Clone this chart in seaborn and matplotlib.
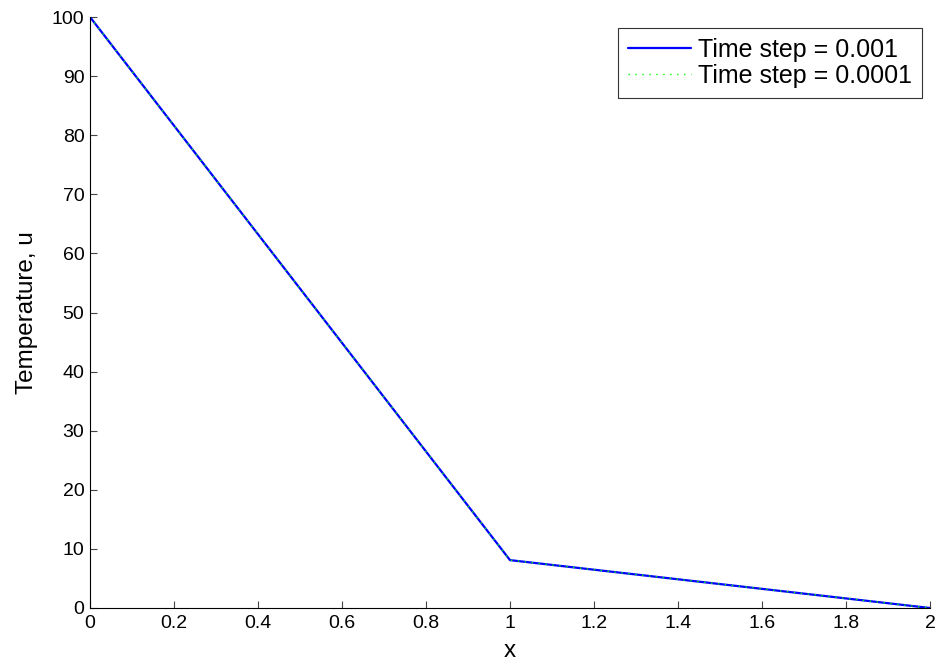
import matplotlib
matplotlib.use("Agg")
import matplotlib.pyplot as plt
import seaborn as sns
import pandas as pd

# Steady temperature profile along the rod for two time steps
x_nodes = [0.0, 1.0, 2.0]
u_dt_001 = [100.0, 8.1, 0.0]
u_dt_0001 = [100.0, 8.1, 0.0]
series_labels = ["Time step = 0.001", "Time step = 0.0001"]
x_ticks = [0, 0.2, 0.4, 0.6, 0.8, 1, 1.2, 1.4, 1.6, 1.8, 2]
x_tick_labels = ["0", "0.2", "0.4", "0.6", "0.8", "1", "1.2", "1.4", "1.6", "1.8", "2"]
y_ticks = [0, 10, 20, 30, 40, 50, 60, 70, 80, 90, 100]

df = pd.DataFrame({
    "x": x_nodes + x_nodes,
    "u": u_dt_001 + u_dt_0001,
    "series": [series_labels[0]] * len(x_nodes) + [series_labels[1]] * len(x_nodes),
})

sns.set_theme(style="ticks")
plt.rcParams["font.family"] = ["Liberation Sans", "DejaVu Sans"]
plt.rcParams["text.color"] = "black"
plt.rcParams["axes.labelcolor"] = "black"

fig = plt.figure(figsize=(9.4, 6.69), dpi=100)
ax = fig.add_axes([90 / 940, 61 / 669, 840 / 940, 591 / 669])

palette = {series_labels[0]: "#0000ff", series_labels[1]: "#00ff00"}
widths = {series_labels[0]: 1.6, series_labels[1]: 1.0}
styles = {series_labels[0]: "-", series_labels[1]: (0, (1, 4))}

for lab in series_labels:
    sub = df[df["series"] == lab]
    sns.lineplot(data=sub, x="x", y="u", ax=ax, color=palette[lab],
                 linewidth=widths[lab], linestyle=styles[lab], label=lab,
                 estimator=None, sort=False)

ax.set_xlim(0, 2)
ax.set_ylim(0, 100)
ax.set_xticks(x_ticks)
ax.set_xticklabels(x_tick_labels)
ax.set_yticks(y_ticks)
ax.tick_params(direction="in", length=5, width=0.8, color="#444444",
               labelsize=14, labelcolor="black", bottom=True, left=True,
               top=False, right=False)
ax.tick_params(axis="x", pad=5)
ax.tick_params(axis="y", pad=4)
for side in ["top", "right"]:
    ax.spines[side].set_visible(False)
for side in ["left", "bottom"]:
    ax.spines[side].set_color("black")
    ax.spines[side].set_linewidth(0.8)

ax.set_xlabel("x", fontsize=17.5, color="black", labelpad=6)
ax.set_ylabel("Temperature, u", fontsize=17.5, color="black", labelpad=10)

leg = ax.legend(loc="upper right", bbox_to_anchor=(0.991, 0.982), fontsize=18,
                frameon=True, fancybox=False, handlelength=2.5,
                handletextpad=0.3, borderpad=0.4, labelspacing=0.1,
                borderaxespad=0)
leg.get_frame().set_edgecolor("black")
leg.get_frame().set_linewidth(0.8)
for t in leg.get_texts():
    t.set_color("black")

fig.savefig("out.png", dpi=100, facecolor="white")
